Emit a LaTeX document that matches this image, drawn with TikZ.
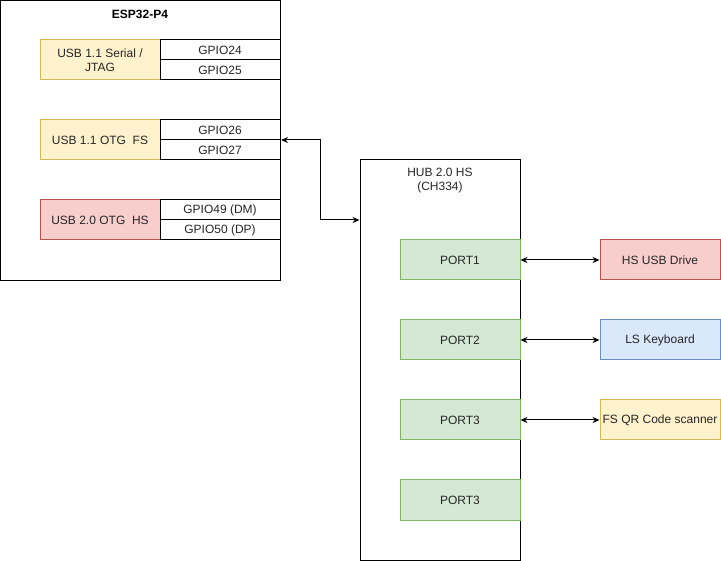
\documentclass[tikz,border=0pt]{standalone}
\usepackage{fontspec}
\setmainfont{Liberation Sans}
\usetikzlibrary{arrows.meta}
\definecolor{ylwF}{HTML}{FFF2CC}\definecolor{ylwD}{HTML}{D6B656}
\definecolor{redF}{HTML}{F8CECC}\definecolor{redD}{HTML}{B85450}
\definecolor{grnF}{HTML}{D5E8D4}\definecolor{grnD}{HTML}{82B366}
\definecolor{bluF}{HTML}{DAE8FC}\definecolor{bluD}{HTML}{6C8EBF}
\begin{document}
\begin{tikzpicture}[x=1pt,y=-1pt,line width=1pt,
  font=\fontsize{12}{14}\selectfont,
  box/.style={draw,inner sep=0pt,align=center,text=black!85},
  blk/.style={box,minimum width=120pt,minimum height=40pt},
  pin/.style={box,minimum width=120pt,minimum height=20pt,fill=white},
  ylw/.style={blk,fill=ylwF,draw=ylwD},
  red/.style={blk,fill=redF,draw=redD},
  grn/.style={blk,fill=grnF,draw=grnD},
  blu/.style={blk,fill=bluF,draw=bluD},
  conn/.style={{Stealth[length=7pt,width=6pt]}-{Stealth[length=7pt,width=6pt]},line width=1pt}]
\useasboundingbox (0,0) rectangle (721,561);
% ESP32 box
\node[draw,minimum width=280pt,minimum height=280pt,inner sep=0pt] (esp) at (140.5,140.5) {};
\node[font=\fontsize{12}{14}\selectfont\bfseries] (esptitle) at (140,14) {ESP32-P4};
\node[ylw] (serial) at (100,60) {USB 1.1 Serial /\\JTAG};
\node[pin] (g24) at (220,50) {GPIO24};
\node[pin] (g25) at (220,70) {GPIO25};
\node[ylw] (otgfs) at (100,140) {USB 1.1 OTG\ \ FS};
\node[pin] (g26) at (220,130) {GPIO26};
\node[pin] (g27) at (220,150) {GPIO27};
\node[red] (otghs) at (100,220) {USB 2.0 OTG\ \ HS};
\node[pin] (g49) at (220,210) {GPIO49 (DM)};
\node[pin] (g50) at (220,230) {GPIO50 (DP)};
% Hub
\node[draw,minimum width=160pt,minimum height=400pt,inner sep=0pt] (hub) at (440,360) {};
\node[align=center,text=black!85] (hubtitle) at (440,181) {HUB 2.0 HS\\(CH334)};
\node[grn] (p1) at (460,260) {PORT1};
\node[grn] (p2) at (460,340) {PORT2};
\node[grn] (p3) at (460,420) {PORT3};
\node[grn] (p4) at (460,500) {PORT3};
% Devices
\node[red] (drive) at (660,260) {HS USB Drive};
\node[blu] (kbd) at (660,340) {LS Keyboard};
\node[ylw] (qr) at (660,420) {FS QR Code scanner};
% Connectors
\coordinate (hubin) at (hub.west |- 0,220);
\coordinate (espout) at (esp.east |- 0,140);
\draw[conn] (hubin) -- (320,220) -- (320,140) -- (espout);
\draw[conn] (p1.east) -- (drive.west);
\draw[conn] (p2.east) -- (kbd.west);
\draw[conn] (p3.east) -- (qr.west);
\end{tikzpicture}
\end{document}
